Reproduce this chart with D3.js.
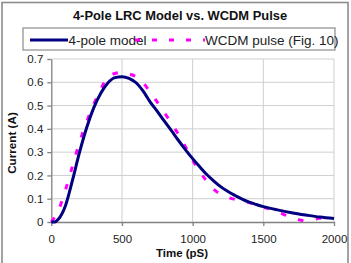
<!DOCTYPE html>
<html><head><meta charset="utf-8">
<script src="https://cdn.jsdelivr.net/npm/d3@7"></script>
<style>body{margin:0;background:#fff}svg{display:block;font-family:"Liberation Sans",Arial,sans-serif}</style>
</head><body><svg id="c" width="351" height="263"></svg>
<script>
const title = "4-Pole LRC Model vs. WCDM Pulse";
const seriesNames = ["4-pole model", "WCDM pulse (Fig. 10)"];
const xTicks = [0, 500, 1000, 1500, 2000];
const yTicks = [0, 0.1, 0.2, 0.3, 0.4, 0.5, 0.6, 0.7];
const modelTime = [0,25,50,100,150,200,250,300,350,400,450,500,550,600,650,700,750,800,850,900,950,1000,1050,1100,1150,1200,1250,1300,1350,1400,1450,1500,1600,1700,1800,1900,2000];
const modelCurrent = [0,0,0.012,0.07,0.18,0.30,0.405,0.49,0.553,0.597,0.62,0.624,0.617,0.598,0.562,0.515,0.475,0.433,0.392,0.35,0.31,0.272,0.237,0.204,0.176,0.151,0.131,0.114,0.098,0.085,0.075,0.066,0.052,0.040,0.030,0.021,0.015];
const pulseTime = [0,50,100,150,200,250,300,350,400,450,500,550,600,650,700,750,800,850,900,950,1000,1050,1100,1150,1200,1250,1300,1350,1400,1450,1500,1550,1600,1650,1700,1750,1800,1850,1900,1950];
const pulseCurrent = [0,0.05,0.137,0.24,0.343,0.43,0.505,0.57,0.625,0.638,0.643,0.636,0.624,0.598,0.557,0.515,0.47,0.423,0.376,0.322,0.265,0.217,0.175,0.14,0.118,0.106,0.097,0.09,0.083,0.072,0.063,0.055,0.043,0.031,0.02,0.01,0.006,0.01,0.016,0.016];

const svg = d3.select("#c");
svg.append("rect").attr("x",2).attr("y",2.5).attr("width",346).attr("height",264)
  .attr("fill","#fff").attr("stroke","#8c8c8c").attr("stroke-width",1.6);

const x = d3.scaleLinear().domain([0,2000]).range([51.3,334]);
const y = d3.scaleLinear().domain([0,0.7]).range([222,59]);

// gridlines
const g = svg.append("g");
g.selectAll(".hg").data(yTicks.slice(1)).join("line")
  .attr("x1",x(0)).attr("x2",x(2000)).attr("y1",d=>y(d)).attr("y2",d=>y(d))
  .attr("stroke","#cfcfcf").attr("stroke-width",1);
g.selectAll(".vg").data(xTicks.slice(1)).join("line")
  .attr("y1",y(0)).attr("y2",y(0.7)).attr("x1",d=>x(d)).attr("x2",d=>x(d))
  .attr("stroke","#cfcfcf").attr("stroke-width",1);

// axes
const xa = svg.append("g").attr("transform",`translate(0,${y(0)})`)
  .call(d3.axisBottom(x).tickValues(xTicks).tickFormat(d3.format("d")).tickSize(4).tickSizeOuter(0));
const ya = svg.append("g").attr("transform",`translate(${x(0)},0)`)
  .call(d3.axisLeft(y).tickValues(yTicks).tickFormat(d=>d===0?"0":d3.format(".1f")(d)).tickSize(4).tickSizeOuter(0));
[xa,ya].forEach(a=>{
  a.select(".domain").attr("stroke","#808080").attr("stroke-width",1.3);
  a.selectAll(".tick line").attr("stroke","#808080").attr("stroke-width",1.3);
  a.selectAll("text").attr("fill","#222").style("font-size","11.5px").style("font-family","'Liberation Sans',Arial,sans-serif");
});
xa.selectAll("text").attr("dy",14.3);
ya.selectAll("text").attr("x",-8);

// lines
const line = d3.line().x(d=>x(d[0])).y(d=>y(d[1])).curve(d3.curveMonotoneX);
svg.append("path").datum(pulseTime.map((t,i)=>[t,pulseCurrent[i]]))
  .attr("d",line).attr("fill","none").attr("stroke","#ff00ff").attr("stroke-width",3)
  .attr("stroke-dasharray","5.5,12.5");
svg.append("path").datum(modelTime.map((t,i)=>[t,modelCurrent[i]]))
  .attr("d",line).attr("fill","none").attr("stroke","#000080").attr("stroke-width",3);

// title
svg.append("text").attr("x",180).attr("y",20).attr("text-anchor","middle")
  .style("font-weight","bold").style("font-size","12.9px").attr("fill","#111").text(title);

// legend
const lg = svg.append("g");
lg.append("rect").attr("x",23).attr("y",28).attr("width",312).attr("height",22)
  .attr("fill","#fff").attr("stroke","#8c8c8c").attr("stroke-width",1.2);
lg.append("line").attr("x1",30).attr("x2",68).attr("y1",40).attr("y2",40)
  .attr("stroke","#000080").attr("stroke-width",3);
lg.append("text").attr("x",68.5).attr("y",44.5).style("font-size","13.5px").attr("fill","#222").text(seriesNames[0]);
lg.append("line").attr("x1",135).attr("x2",205).attr("y1",40).attr("y2",40)
  .attr("stroke","#ff00ff").attr("stroke-width",3).attr("stroke-dasharray","5,12");
lg.append("text").attr("x",205).attr("y",44.5).style("font-size","13.5px").attr("fill","#222").text(seriesNames[1]);

// axis titles
svg.append("text").attr("x",182).attr("y",257.3).attr("text-anchor","middle")
  .style("font-weight","bold").style("font-size","11.5px").attr("fill","#111").text("Time (pS)");
svg.append("text").attr("transform","translate(16,143) rotate(-90)").attr("text-anchor","middle")
  .style("font-weight","bold").style("font-size","11.7px").attr("fill","#111").text("Current (A)");
</script></body></html>
